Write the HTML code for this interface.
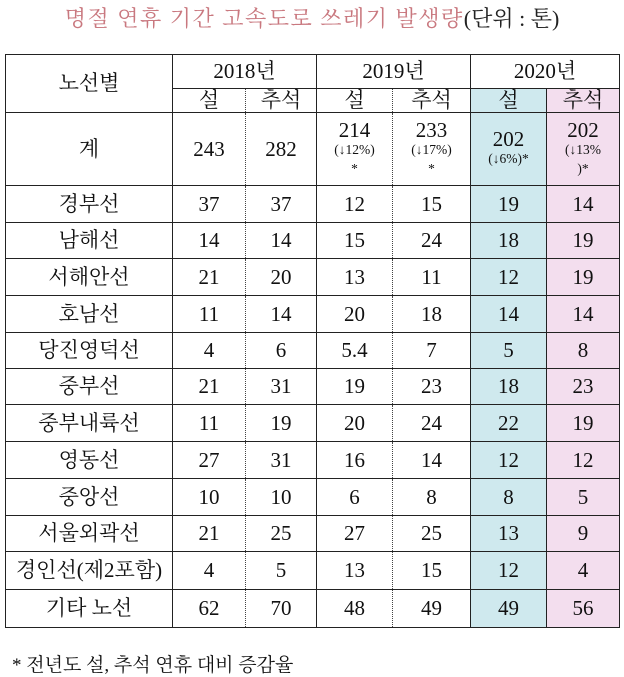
<!DOCTYPE html>
<html><head><meta charset="utf-8"><style>
body{margin:0;width:624px;height:677px;background:#fff;position:relative;overflow:hidden;font-family:"Liberation Serif","Noto Serif CJK SC",serif;color:#111}
.t{position:absolute;left:0;width:624px;top:2px;text-align:center;font-size:22px;color:#c9787f;letter-spacing:1.5px}
.t span{color:#222;letter-spacing:0}
table{position:absolute;left:5px;top:54px;border-collapse:collapse;table-layout:fixed}
td{border:1.5px solid #222;text-align:center;vertical-align:middle;font-size:21px;padding:0;line-height:1}
td.d{border-right:1.5px dotted #444}
td.l{border-left:none}
.b{background:#cfe9ee}.p{background:#f3deee}
small{font-size:13.5px;display:block;line-height:1.35}
.f{position:absolute;left:12px;top:650px;font-size:19px}
</style></head><body>
<div class="t">명절 연휴 기간 고속도로 쓰레기 발생량<span>(단위 : 톤)</span></div>
<table>
<colgroup><col style="width:167px"><col style="width:73px"><col style="width:71px"><col style="width:76px"><col style="width:78px"><col style="width:76px"><col style="width:73px"></colgroup>
<tr style="height:34px"><td rowspan="2">노선별</td><td colspan="2">2018년</td><td colspan="2">2019년</td><td colspan="2">2020년</td></tr>
<tr style="height:24px"><td class="d">설</td><td class="l">추석</td><td class="d">설</td><td class="l">추석</td><td class="b">설</td><td class="p">추석</td></tr>
<tr style="height:73px"><td>계</td><td class="d">243</td><td class="l">282</td><td class="d">214<small>(↓12%)<br>*</small></td><td class="l">233<small>(↓17%)<br>*</small></td><td class="b">202<small>(↓6%)*</small></td><td class="p">202<small>(↓13%<br>)*</small></td></tr>
<tr style="height:37px"><td>경부선</td><td class="d">37</td><td class="l">37</td><td class="d">12</td><td class="l">15</td><td class="b">19</td><td class="p">14</td></tr>
<tr style="height:36px"><td>남해선</td><td class="d">14</td><td class="l">14</td><td class="d">15</td><td class="l">24</td><td class="b">18</td><td class="p">19</td></tr>
<tr style="height:37px"><td>서해안선</td><td class="d">21</td><td class="l">20</td><td class="d">13</td><td class="l">11</td><td class="b">12</td><td class="p">19</td></tr>
<tr style="height:37px"><td>호남선</td><td class="d">11</td><td class="l">14</td><td class="d">20</td><td class="l">18</td><td class="b">14</td><td class="p">14</td></tr>
<tr style="height:36px"><td>당진영덕선</td><td class="d">4</td><td class="l">6</td><td class="d">5.4</td><td class="l">7</td><td class="b">5</td><td class="p">8</td></tr>
<tr style="height:36px"><td>중부선</td><td class="d">21</td><td class="l">31</td><td class="d">19</td><td class="l">23</td><td class="b">18</td><td class="p">23</td></tr>
<tr style="height:37px"><td>중부내륙선</td><td class="d">11</td><td class="l">19</td><td class="d">20</td><td class="l">24</td><td class="b">22</td><td class="p">19</td></tr>
<tr style="height:37px"><td>영동선</td><td class="d">27</td><td class="l">31</td><td class="d">16</td><td class="l">14</td><td class="b">12</td><td class="p">12</td></tr>
<tr style="height:37px"><td>중앙선</td><td class="d">10</td><td class="l">10</td><td class="d">6</td><td class="l">8</td><td class="b">8</td><td class="p">5</td></tr>
<tr style="height:36px"><td>서울외곽선</td><td class="d">21</td><td class="l">25</td><td class="d">27</td><td class="l">25</td><td class="b">13</td><td class="p">9</td></tr>
<tr style="height:38px"><td>경인선(제2포함)</td><td class="d">4</td><td class="l">5</td><td class="d">13</td><td class="l">15</td><td class="b">12</td><td class="p">4</td></tr>
<tr style="height:38px"><td>기타 노선</td><td class="d">62</td><td class="l">70</td><td class="d">48</td><td class="l">49</td><td class="b">49</td><td class="p">56</td></tr>
</table>
<div class="f">* 전년도 설, 추석 연휴 대비 증감율</div>
</body></html>
